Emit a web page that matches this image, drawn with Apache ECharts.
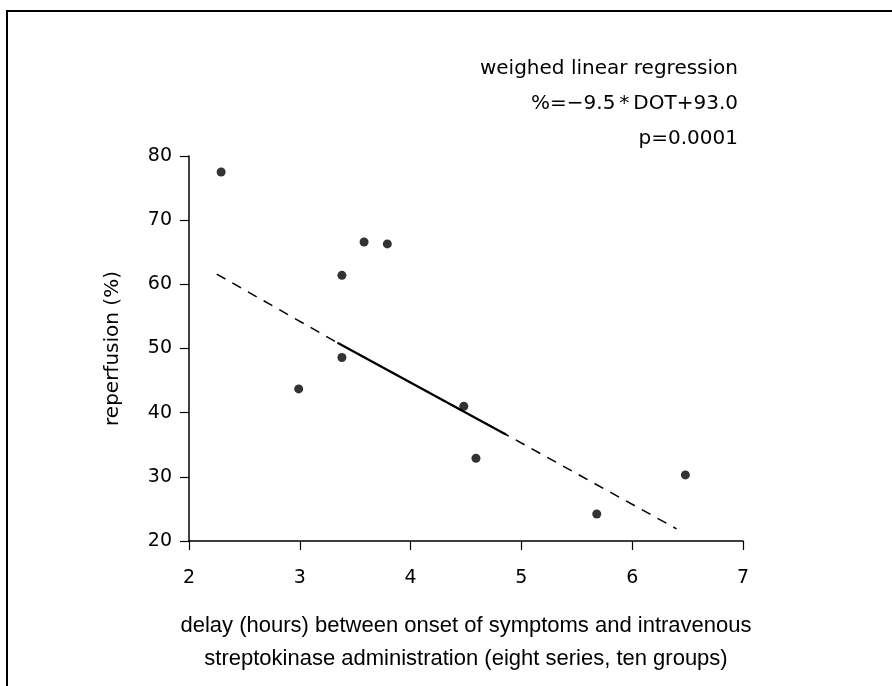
<!DOCTYPE html>
<html>
<head>
<meta charset="utf-8">
<script src="https://cdn.jsdelivr.net/npm/echarts@6/dist/echarts.min.js"></script>
<style>
  html, body { margin: 0; padding: 0; background: #fff; }
  #chart { width: 892px; height: 686px; }
</style>
</head>
<body>
<div id="chart"></div>
<script>
// delay (hours) and reperfusion (%) for the ten groups
const delayHours = [2.29, 2.99, 3.38, 3.38, 3.58, 3.79, 4.48, 4.59, 5.68, 6.48]
const reperfusion = [77.5, 43.7, 61.4, 48.6, 66.6, 66.3, 41.0, 32.9, 24.2, 30.3]

// regression line as drawn: dashed over the full range, solid over the middle part
const fitX = [2.25, 3.34, 4.86, 6.40]
const fitY = [61.6, 50.9, 36.6, 21.9]

const xTicks = [2, 3, 4, 5, 6, 7]
const yTicks = [20, 30, 40, 50, 60, 70, 80]

const notes = ['weighed linear regression', '%=\u22129.5\u2009*\u2009DOT+93.0', 'p=0.0001']

const font = 'DejaVu Sans, Liberation Sans, sans-serif'

const chart = echarts.init(document.getElementById('chart'))

const points = delayHours.map((x, i) => [x, reperfusion[i]])
const fitAll = fitX.map((x, i) => [x, fitY[i]])
const fitSolid = fitAll.slice(1, 3)

const option = {
  animation: false,
  backgroundColor: '#fff',
  grid: { left: 189, right: 149, top: 156, bottom: 145 },
  xAxis: {
    type: 'value',
    min: xTicks[0],
    max: xTicks[xTicks.length - 1],
    interval: 1,
    splitLine: { show: false },
    axisLine: { lineStyle: { color: '#000', width: 1.5 } },
    axisTick: { show: true, length: 9, lineStyle: { color: '#000', width: 1.2 } },
    axisLabel: { color: '#000', fontSize: 19, fontFamily: font, margin: 28 },
    name: 'delay (hours) between onset of symptoms and intravenous\nstreptokinase administration (eight series, ten groups)',
    nameLocation: 'middle',
    nameGap: 68,
    nameTextStyle: {
      color: '#000',
      fontSize: 22,
      fontFamily: 'Liberation Sans Narrow, Liberation Sans, sans-serif',
      lineHeight: 33
    }
  },
  yAxis: {
    type: 'value',
    min: yTicks[0],
    max: yTicks[yTicks.length - 1],
    interval: 10,
    splitLine: { show: false },
    axisLine: { show: true, lineStyle: { color: '#000', width: 1.5 } },
    axisTick: { show: true, length: 9, lineStyle: { color: '#000', width: 1.2 } },
    axisLabel: { color: '#000', fontSize: 19, fontFamily: font, margin: 17 },
    name: 'reperfusion (%)',
    nameLocation: 'middle',
    nameGap: 66,
    nameRotate: 90,
    nameTextStyle: { color: '#000', fontSize: 20, fontFamily: font }
  },
  series: [
    {
      type: 'line',
      data: fitAll,
      symbol: 'none',
      silent: true,
      lineStyle: { color: '#000', width: 1.5, type: [10, 8] }
    },
    {
      type: 'line',
      data: fitSolid,
      symbol: 'none',
      silent: true,
      lineStyle: { color: '#000', width: 2.2, type: 'solid' }
    },
    {
      type: 'scatter',
      data: points,
      symbol: 'circle',
      symbolSize: 9,
      itemStyle: { color: '#000' }
    }
  ],
  graphic: [
    {
      type: 'rect',
      shape: { x: 7, y: 11, width: 1000, height: 1000 },
      style: { fill: 'none', stroke: '#000', lineWidth: 2 },
      silent: true
    },
    ...notes.map((t, i) => ({
      type: 'text',
      right: 154,
      top: 59 + i * 35,
      style: { text: t, fill: '#000', fontSize: 20, fontFamily: font }
    }))
  ]
}

chart.setOption(option)
</script>
</body>
</html>
